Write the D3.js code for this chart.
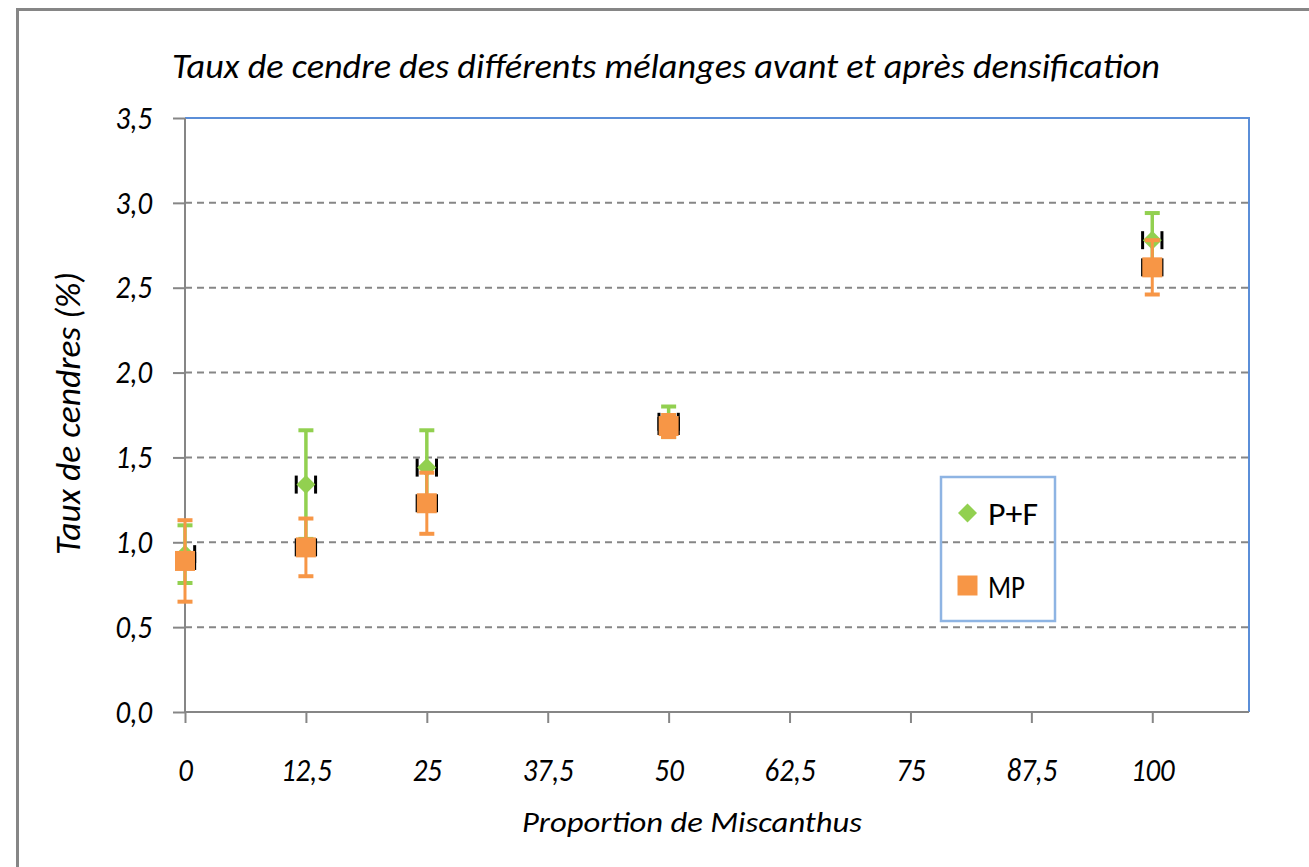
<!DOCTYPE html>
<html>
<head>
<meta charset="utf-8">
<script src="https://cdn.jsdelivr.net/npm/d3@7"></script>
<style>
  body { margin: 0; background: #fff; }
  text { font-family: Carlito, Lato, sans-serif; fill: #000; }
</style>
</head>
<body>
<script>
var categories = [0, 12.5, 25, 50, 100];
var xTicks = [0, 12.5, 25, 37.5, 50, 62.5, 75, 87.5, 100];
var yTicks = [0, 0.5, 1, 1.5, 2, 2.5, 3, 3.5];
var seriesNames = ['P+F', 'MP'];
var pfValues = [0.93, 1.34, 1.44, 1.71, 2.78];
var pfErrors = [0.17, 0.32, 0.22, 0.09, 0.16];
var mpValues = [0.89, 0.97, 1.23, 1.685, 2.62];
var mpErrors = [0.24, 0.17, 0.18, 0.065, 0.16];
var xErrors = [1, 1, 1, 1, 1];

var width = 1309, height = 867;
var plot = {left: 185, right: 1249, top: 118, bottom: 712};
var gray = '#868686';
var green = '#92d050';
var orange = '#f79646';

var svg = d3.select('body').append('svg')
            .attr('width', width)
            .attr('height', height);

var x = d3.scaleLinear().domain([0, 110]).range([plot.left, plot.right]);
var y = d3.scaleLinear().domain([0, 3.5]).range([plot.bottom, plot.top]);
var comma = d => d3.format('.1f')(d).replace('.', ',');
var commaX = d => String(d).replace('.', ',');

// outer chart frame (only top/left visible)
svg.append('rect')
   .attr('x', 17.5).attr('y', 9.5)
   .attr('width', 1400).attr('height', 1000)
   .attr('fill', 'none')
   .attr('stroke', gray)
   .attr('stroke-width', 3);

// gridlines
svg.append('g').selectAll('line')
   .data(yTicks.filter(d => d > 0 && d < 3.5))
   .enter().append('line')
     .attr('x1', plot.left).attr('x2', plot.right)
     .attr('y1', d => y(d)).attr('y2', d => y(d))
     .attr('stroke', gray)
     .attr('stroke-width', 2)
     .attr('stroke-dasharray', '7,5');

// plot border top/right
svg.append('path')
   .attr('d', `M${plot.left},${plot.top}H${plot.right}V${plot.bottom}`)
   .attr('fill', 'none')
   .attr('stroke', '#5b8ed8')
   .attr('stroke-width', 2);

// axes
var yAxis = svg.append('g')
   .attr('transform', `translate(${plot.left},0)`)
   .call(d3.axisLeft(y).tickValues(yTicks).tickSize(12).tickSizeOuter(0)
           .tickPadding(21).tickFormat(comma));

var xAxis = svg.append('g')
   .attr('transform', `translate(0,${plot.bottom})`)
   .call(d3.axisBottom(x).tickValues(xTicks).tickSize(11).tickSizeOuter(0)
           .tickPadding(35).tickFormat(commaX));

[yAxis, xAxis].forEach(function(a) {
  a.select('.domain').attr('stroke', gray).attr('stroke-width', 2);
  a.selectAll('.tick line').attr('stroke', gray).attr('stroke-width', 2);
  a.selectAll('.tick text')
   .attr('fill', '#000')
   .style('font-size', '32px')
   .style('font-style', 'italic')
   .style('font-family', 'Carlito, Lato, sans-serif');
  a.selectAll('.tick text').each(function() {
    var w = this.getComputedTextLength();
    d3.select(this).attr('textLength', w * 0.9).attr('lengthAdjust', 'spacingAndGlyphs');
  });
});
yAxis.select('.domain').attr('d', `M0,${plot.top}V${plot.bottom}`);
xAxis.select('.domain').attr('d', `M${plot.left},0H${plot.right}`);

// series
var series = [
  {name: seriesNames[0], values: pfValues, errors: pfErrors, color: green, shape: 'diamond', lw: 3.5},
  {name: seriesNames[1], values: mpValues, errors: mpErrors, color: orange, shape: 'square', lw: 3}
];

var diamond = d3.symbol(d3.symbolSquare, 180)();
var square = d3.symbol(d3.symbolSquare, 400)();

function marker(g, shape, color) {
  if (shape === 'diamond') {
    g.append('path').attr('d', diamond).attr('transform', 'rotate(45)').attr('fill', color);
  } else {
    g.append('path').attr('d', square).attr('fill', color);
  }
}

series.forEach(function(s) {
  var pts = categories.map((c, i) => ({x: c, y: s.values[i], e: s.errors[i], xe: xErrors[i]}));
  var g = svg.append('g').attr('class', 'series');

  pts.forEach(function(p) {
    var cx = x(p.x), cy = y(p.y);
    var lo = Math.max(x(p.x - p.xe), plot.left);
    var hi = x(p.x + p.xe);
    // x error bar
    g.append('line')
     .attr('x1', lo).attr('x2', hi).attr('y1', cy).attr('y2', cy)
     .attr('stroke', s.color).attr('stroke-width', 2);
    [p.x - p.xe, p.x + p.xe].filter(v => v >= 0).forEach(function(v) {
      g.append('line')
       .attr('x1', x(v)).attr('x2', x(v))
       .attr('y1', cy - 9).attr('y2', cy + 9)
       .attr('stroke', '#000').attr('stroke-width', 3);
    });
    // y error bar
    g.append('line')
     .attr('x1', cx).attr('x2', cx)
     .attr('y1', y(p.y + p.e)).attr('y2', y(p.y - p.e))
     .attr('stroke', s.color).attr('stroke-width', s.lw);
    [p.y + p.e, p.y - p.e].forEach(function(v) {
      g.append('line')
       .attr('x1', cx - 7.5).attr('x2', cx + 7.5)
       .attr('y1', y(v)).attr('y2', y(v))
       .attr('stroke', s.color).attr('stroke-width', 4);
    });
    marker(g.append('g').attr('transform', `translate(${cx},${cy})`), s.shape, s.color);
  });
});

// legend
var legend = svg.append('g');
legend.append('rect')
      .attr('x', 941).attr('y', 477)
      .attr('width', 114).attr('height', 144)
      .attr('fill', 'none')
      .attr('stroke', '#8eb4e3')
      .attr('stroke-width', 2.5);
var legendRows = [{y: 513, w: 50}, {y: 585.5, w: 37}];
series.forEach(function(s, i) {
  marker(legend.append('g').attr('transform', `translate(967.5,${legendRows[i].y})`), s.shape, s.color);
  legend.append('text')
        .attr('x', 988).attr('y', legendRows[i].y + 12)
        .attr('textLength', legendRows[i].w).attr('lengthAdjust', 'spacingAndGlyphs')
        .style('font-size', '33px')
        .text(s.name);
});

// titles
svg.append('text')
   .attr('x', 172).attr('y', 78)
   .attr('textLength', 988).attr('lengthAdjust', 'spacingAndGlyphs')
   .style('font-size', '35px').style('font-style', 'italic')
   .text('Taux de cendre des différents mélanges avant et après densification');

svg.append('text')
   .attr('x', 522).attr('y', 832)
   .attr('textLength', 340).attr('lengthAdjust', 'spacingAndGlyphs')
   .style('font-size', '29px').style('font-style', 'italic')
   .text('Proportion de Miscanthus');

svg.append('text')
   .attr('transform', 'translate(80,555) rotate(-90)')
   .attr('textLength', 283).attr('lengthAdjust', 'spacingAndGlyphs')
   .style('font-size', '34px').style('font-style', 'italic')
   .text('Taux de cendres (%)');
</script>
</body>
</html>
